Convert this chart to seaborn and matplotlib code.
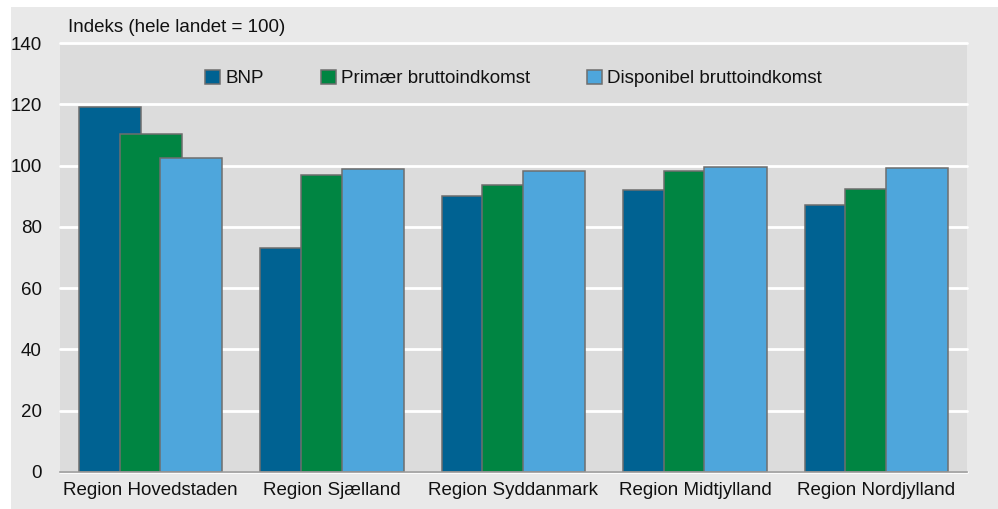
import pandas as pd
import matplotlib.pyplot as plt
import seaborn as sns
from matplotlib.patches import Patch, Rectangle

# Data
regions = ['Region Hovedstaden', 'Region Sjælland', 'Region Syddanmark',
           'Region Midtjylland', 'Region Nordjylland']
series = ['BNP', 'Primær bruttoindkomst', 'Disponibel bruttoindkomst']
bnp = [119.0, 73.0, 90.0, 92.0, 87.0]
primaer = [110.2, 97.0, 93.6, 98.2, 92.3]
disponibel = [102.4, 98.9, 98.2, 99.5, 99.2]
colors = ['#006292', '#008542', '#4ea6dc']
yticks = [0, 20, 40, 60, 80, 100, 120, 140]

df = pd.DataFrame({
    'region': regions * 3,
    'serie': [s for s in series for _ in regions],
    'value': bnp + primaer + disponibel,
})

sns.set_style('white')
plt.rcParams['font.family'] = ['Liberation Sans', 'DejaVu Sans']
plt.rcParams['text.color'] = '#111111'

fig = plt.figure(figsize=(9.98, 5.09), dpi=100)
fig.patch.set_facecolor('white')
# light grey panel behind the chart
fig.patches.append(Rectangle((11 / 998, 0), 1, 1 - 7 / 509, transform=fig.transFigure,
                             facecolor='#e9e9e9', edgecolor='none', zorder=-5))

ax = fig.add_axes([60 / 998, 37 / 509, 907 / 998, 429 / 509])
ax.set_facecolor('#dcdcdc')

sns.barplot(data=df, x='region', y='value', hue='serie', hue_order=series,
            palette=colors, width=0.672, edgecolor='#6e6e6e', linewidth=1.1,
            saturation=1, legend=False, ax=ax)

# widen each bar around its centre so neighbours overlap like in the original
new_w = 0.343
for cont in ax.containers:
    for bar in cont:
        c = bar.get_x() + bar.get_width() / 2
        bar.set_width(new_w)
        bar.set_x(c - new_w / 2)

ax.set_ylim(0, 140)
ax.set_xlim(-0.5, 4.5)
ax.set_yticks(yticks)
ax.yaxis.grid(True, color='white', linewidth=2)
ax.set_axisbelow(True)
for line in ax.get_ygridlines():
    line.set_clip_on(False)
for s in ['top', 'right', 'left']:
    ax.spines[s].set_visible(False)
ax.spines['bottom'].set_color('#9a9a9a')
ax.spines['bottom'].set_linewidth(1.2)
ax.tick_params(axis='y', length=0, pad=13, labelsize=13.5, labelcolor='#111111')
ax.tick_params(axis='x', length=0, pad=7, labelsize=13.5, labelcolor='#111111')
ax.set_xlabel('')
ax.set_ylabel('')

handles = [Patch(facecolor=c, edgecolor='#6e6e6e', linewidth=1.1) for c in colors]
ax.legend(handles, series, loc='center', bbox_to_anchor=(0.5, 0.917), ncol=3,
          frameon=False, fontsize=13.5, handlelength=0.8, handleheight=0.8,
          handletextpad=0.3, columnspacing=3.0)

fig.text(68 / 998, 1 - 27 / 509, 'Indeks (hele landet = 100)', fontsize=13.5,
         va='center', ha='left')

plt.savefig('out.png', dpi=100)
